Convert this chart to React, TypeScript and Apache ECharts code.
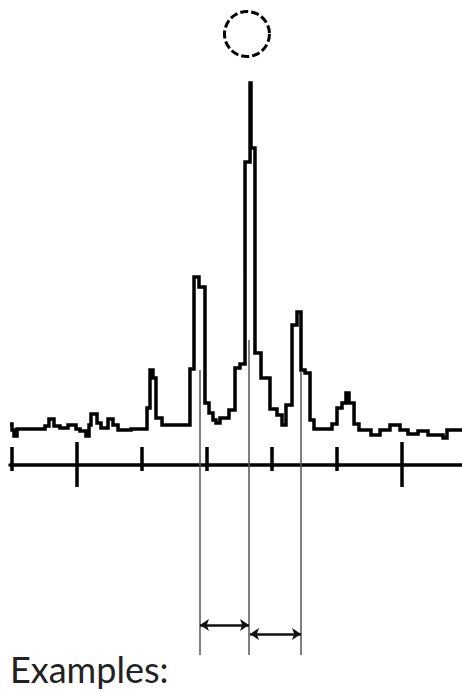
import React, { useEffect, useRef } from "react";
import * as echarts from "echarts";

// Step spectrum: left edge of each flat level (x in axis units, tick every 10) and its height
const stepX = [
  -0.31, 0, 0.31, 0.77, 5.08, 5.69, 6.46, 7.38, 8.62, 9.85, 10.46, 11.38, 11.85, 12.15,
  13.08, 13.69, 14.77, 15.54, 16.31, 18.31, 20.77, 21.23, 21.69, 22.15, 23.08, 27.38,
  28.0, 28.77, 29.69, 30.31, 30.92, 31.38, 32.0, 33.38, 34.31, 35.08, 35.85, 36.62,
  36.77, 37.38, 38.31, 39.69, 40.77, 41.54, 42.15, 43.08, 43.85, 44.46, 45.08, 45.85,
  46.46, 49.23, 50.0, 50.77, 51.38, 51.85, 52.62, 53.38, 55.23, 56.62, 58.15, 59.69,
  60.92, 62.46, 64.0, 66.31, 66.92, 69.23,
];
const stepY = [
  41, 35, 29, 36, 39, 46, 39, 37, 40, 36, 34, 29, 40, 51,
  42, 37, 46, 40, 35, 36, 57, 95, 87, 47, 40, 96,
  188, 178, 62, 52, 45, 42, 47, 55, 97, 101, 303, 382,
  317, 112, 87, 56, 50, 40, 60, 140, 153, 95, 92, 45,
  36, 41, 57, 62, 72, 62, 41, 35, 30, 35, 40, 35,
  31, 34, 30, 27, 35, 35,
];

const minorTicks = [0, 20, 30, 40, 50];
const majorTicks = [10, 60];

// Vertical guide lines dropped from the three peaks
const guideX = [28.92, 36.46, 44.46];
const guideTop = [95, 125, 93];
const guideBottom = -190;

// Spacing arrows: [from x, to x, height]
const arrowFrom = [28.92, 36.62];
const arrowTo = [36.46, 44.46];
const arrowY = [-160, -169];

// Circle marker above the main peak
const markerPoint = [36.15, 431];

const caption = "Examples:";

export default function App() {
  const ref = useRef<HTMLDivElement>(null);
  useEffect(() => {
    const chart = echarts.init(ref.current as HTMLDivElement, null, { renderer: "svg" });
    const spectrum = stepX.map((x, i) => [x, stepY[i]]);
    const ticks = [
      ...minorTicks.map((x) => ({ coords: [[x, 18], [x, -6]] })),
      ...majorTicks.map((x) => ({ coords: [[x, 23], [x, -22]] })),
    ];
    const guides = guideX.map((x, i) => ({ coords: [[x, guideTop[i]], [x, guideBottom]] }));
    const arrows = arrowFrom.map((x, i) => ({ coords: [[x, arrowY[i]], [arrowTo[i], arrowY[i]]] }));

    chart.setOption({
      animation: false,
      grid: { left: 10, right: 0, top: 0, bottom: 0 },
      xAxis: {
        type: "value",
        min: -0.3077,
        max: 69.23,
        axisLine: { onZero: true, lineStyle: { color: "#000", width: 3.5 } },
        axisTick: { show: false },
        axisLabel: { show: false },
        splitLine: { show: false },
      },
      yAxis: {
        type: "value",
        min: -228,
        max: 465,
        axisLine: { show: false },
        axisTick: { show: false },
        axisLabel: { show: false },
        splitLine: { show: false },
      },
      series: [
        {
          type: "line",
          step: "end",
          data: spectrum,
          symbol: "none",
          silent: true,
          lineStyle: { color: "#000", width: 3.5, join: "miter" },
        },
        {
          type: "lines",
          coordinateSystem: "cartesian2d",
          data: ticks,
          silent: true,
          lineStyle: { color: "#000", width: 3.5, opacity: 1 },
        },
        {
          type: "lines",
          coordinateSystem: "cartesian2d",
          data: guides,
          silent: true,
          lineStyle: { color: "#555", width: 1.5, opacity: 1 },
        },
        {
          type: "lines",
          coordinateSystem: "cartesian2d",
          data: arrows,
          silent: true,
          symbol: ["arrow", "arrow"],
          symbolSize: 9,
          lineStyle: { color: "#111", width: 2.5, opacity: 1 },
        },
        {
          type: "scatter",
          data: [markerPoint],
          symbol: "circle",
          symbolSize: 45,
          silent: true,
          itemStyle: {
            color: "transparent",
            borderColor: "#000",
            borderWidth: 3,
            borderType: [8, 3],
            opacity: 1,
          },
        },
      ],
      graphic: [
        {
          type: "text",
          left: 10,
          top: 651,
          silent: true,
          style: { text: caption, font: "36px Lato", fill: "#222" },
        },
      ],
    });
    return () => chart.dispose();
  }, []);
  return (
    <div
      ref={ref}
      style={{ position: "fixed", left: 0, top: 0, width: 462, height: 693, background: "#fff" }}
    />
  );
}
